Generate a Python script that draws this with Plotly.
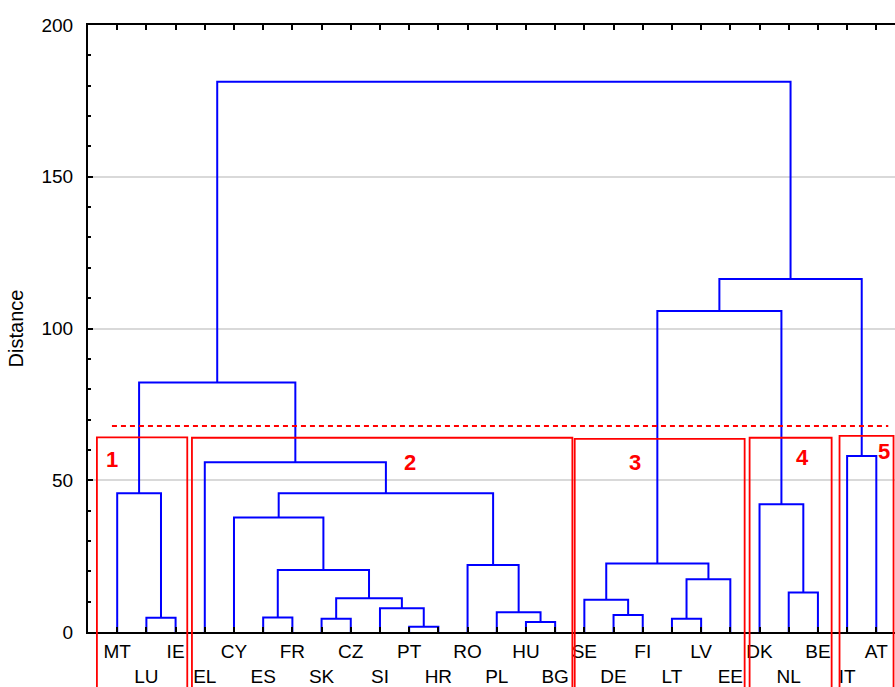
import plotly.graph_objects as go

# ---- data ----
leaves = ["MT", "LU", "IE", "EL", "CY", "ES", "FR", "SK", "CZ", "SI", "PT", "HR",
          "RO", "PL", "HU", "BG", "SE", "DE", "FI", "LT", "LV", "EE", "DK", "NL",
          "BE", "IT", "AT"]

# merges: (left, right, distance); ints refer to earlier merges, strings to leaves
merge_left = ["PT", "HU", "SK", "LT", "LU", "ES", "DE", "PL", "SI", "SE", 2, "NL", 3,
              5, "RO", 9, "CY", "DK", 16, "MT", "EL", "IT", 19, 15, 23, 22]
merge_right = ["HR", "BG", "CZ", "LV", "IE", "FR", "FI", 1, 0, 6, 8, "BE", "EE",
               10, 7, 12, 13, 11, 14, 4, 18, "AT", 20, 17, 21, 24]
merge_height = [1.7, 3.3, 4.4, 4.4, 4.7, 4.8, 5.6, 6.5, 7.8, 10.6, 11.1, 13.0, 17.4,
                20.4, 22.1, 22.6, 37.7, 42.1, 45.7, 45.7, 55.9, 58.0, 82.2, 105.8,
                116.3, 181.3]

cut_height = 67.9
cluster_names = ["1", "2", "3", "4", "5"]

y_ticks = [0, 50, 100, 150, 200]

# ---- geometry from the tree ----
leaf_x = {name: i + 1 for i, name in enumerate(leaves)}
node_x, node_h = [], []

def pos(ref):
    if isinstance(ref, str):
        return leaf_x[ref], 0.0
    return node_x[ref], node_h[ref]

xs, ys = [], []
for l, r, h in zip(merge_left, merge_right, merge_height):
    xl, hl = pos(l)
    xr, hr = pos(r)
    xs += [xl, xl, xr, xr, None]
    ys += [hl, h, h, hr, None]
    node_x.append((xl + xr) / 2)
    node_h.append(h)

ticktext = [n if i % 2 == 0 else "<br>" + n for i, n in enumerate(leaves)]

FONT = "Liberation Sans, Arial, sans-serif"

fig = go.Figure()
fig.add_trace(go.Scatter(x=xs, y=ys, mode="lines",
                         line=dict(color="#0000ff", width=2),
                         hoverinfo="skip", showlegend=False))

# cluster boxes (annotation layout)
boxes = [(0.305, 3.40, 64.1), (3.56, 16.59, 64.0), (16.67, 22.49, 63.6),
         (22.66, 25.47, 64.0), (25.74, 27.59, 64.6)]
label_pos = [(0.82, 56.7), (11.04, 56.0), (18.75, 55.8), (24.48, 57.4), (27.25, 59.4)]

for (x0, x1, top) in boxes:
    fig.add_shape(type="rect", xref="x", yref="paper", x0=x0, x1=x1,
                  y0=-0.3, y1=top / 200.0,
                  line=dict(color="#ff0000", width=1.8), layer="above")

for name, (lx, ly) in zip(cluster_names, label_pos):
    fig.add_annotation(x=lx, y=ly, xref="x", yref="y", text="<b>%s</b>" % name,
                       showarrow=False,
                       font=dict(family=FONT, size=22, color="#ff0000"))

fig.add_shape(type="line", xref="x", yref="y", x0=0.82, x1=27.41,
              y0=cut_height, y1=cut_height,
              line=dict(color="#ff0000", width=2, dash="5px,4px"))

fig.update_layout(
    width=895, height=687,
    margin=dict(l=88, r=0, t=25, b=55),
    paper_bgcolor="white", plot_bgcolor="white",
    font=dict(family=FONT, size=19, color="black"),
    xaxis=dict(range=[0, 27.64], tickvals=list(range(1, len(leaves) + 1)),
               ticktext=ticktext, tickangle=0, ticks="inside", ticklen=5, tickwidth=1.5,
               tickcolor="black", showline=True, linecolor="black", linewidth=2,
               mirror="ticks", showgrid=False, zeroline=False,
               tickfont=dict(family=FONT, size=19, color="black"),
               ticklabelstandoff=1, automargin=False, fixedrange=True),
    yaxis=dict(range=[0, 200], tickvals=y_ticks, ticks="inside", ticklen=5,
               tickwidth=1.5, tickcolor="black", showline=True, linecolor="black",
               linewidth=2, showgrid=True, gridcolor="#d9d9d9", gridwidth=1.5,
               zeroline=False,
               minor=dict(dtick=10, ticks="inside", ticklen=3, tickcolor="black",
                          showgrid=False),
               tickfont=dict(family=FONT, size=19, color="black"),
               ticklabelstandoff=9,
               title=dict(text="Distance", font=dict(family=FONT, size=20, color="black"),
                          standoff=12),
               automargin=False, fixedrange=True),
)

fig.write_html("out.html",
               config={"displayModeBar": False},
               post_script="document.body.style.margin='0px';"
                           "document.body.style.overflow='hidden';")
